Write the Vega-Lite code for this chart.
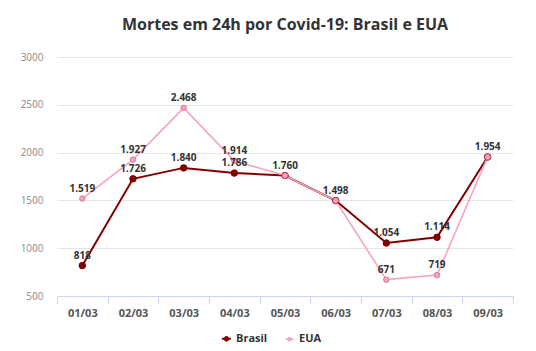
{
  "$schema": "https://vega.github.io/schema/vega-lite/v6.json",
  "autosize": {"type": "fit", "contains": "padding"},
  "width": 536,
  "height": 351,
  "padding": {"left": 20, "right": 22, "top": 17, "bottom": 33},
  "title": {
    "text": "Mortes em 24h por Covid-19: Brasil e EUA",
    "fontSize": 16,
    "fontWeight": "bold",
    "font": "Open Sans",
    "color": "#333333",
    "offset": 19,
    "anchor": "middle"
  },
  "config": {
    "font": "Open Sans",
    "view": {"stroke": null},
    "locale": {"number": {"decimal": ",", "thousands": ".", "grouping": [3], "currency": ["R$", ""]}}
  },
  "data": {
    "values": [
      {"dia": "01/03", "serie": "Brasil", "mortes": 818, "rotulo": true},
      {"dia": "02/03", "serie": "Brasil", "mortes": 1726, "rotulo": true},
      {"dia": "03/03", "serie": "Brasil", "mortes": 1840, "rotulo": true},
      {"dia": "04/03", "serie": "Brasil", "mortes": 1786, "rotulo": true},
      {"dia": "05/03", "serie": "Brasil", "mortes": 1760, "rotulo": true},
      {"dia": "06/03", "serie": "Brasil", "mortes": 1498, "rotulo": true},
      {"dia": "07/03", "serie": "Brasil", "mortes": 1054, "rotulo": true},
      {"dia": "08/03", "serie": "Brasil", "mortes": 1114, "rotulo": true},
      {"dia": "09/03", "serie": "Brasil", "mortes": 1954, "rotulo": true},
      {"dia": "01/03", "serie": "EUA", "mortes": 1519, "rotulo": true},
      {"dia": "02/03", "serie": "EUA", "mortes": 1927, "rotulo": true},
      {"dia": "03/03", "serie": "EUA", "mortes": 2468, "rotulo": true},
      {"dia": "04/03", "serie": "EUA", "mortes": 1914, "rotulo": true},
      {"dia": "05/03", "serie": "EUA", "mortes": 1760, "rotulo": false},
      {"dia": "06/03", "serie": "EUA", "mortes": 1498, "rotulo": false},
      {"dia": "07/03", "serie": "EUA", "mortes": 671, "rotulo": true},
      {"dia": "08/03", "serie": "EUA", "mortes": 719, "rotulo": true},
      {"dia": "09/03", "serie": "EUA", "mortes": 1954, "rotulo": false}
    ]
  },
  "encoding": {
    "x": {
      "field": "dia",
      "type": "nominal",
      "sort": null,
      "scale": {"type": "band", "paddingInner": 0, "paddingOuter": 0},
      "axis": {
        "title": null,
        "labelAngle": 0,
        "labelFontSize": 11,
        "labelFontWeight": "bold",
        "labelColor": "#555555",
        "labelPadding": 3,
        "tickBand": "extent",
        "tickSize": 8,
        "tickColor": "#ccd6eb",
        "domainColor": "#ccd6eb",
        "grid": false
      }
    },
    "y": {
      "field": "mortes",
      "type": "quantitative",
      "scale": {"domain": [500, 3000], "nice": false, "zero": false},
      "axis": {
        "title": null,
        "values": [500, 1000, 1500, 2000, 2500, 3000],
        "format": "d",
        "labelFontSize": 10,
        "labelColor": "#8a8a8a",
        "labelPadding": 14,
        "ticks": false,
        "domain": false,
        "gridColor": "#e6e6e6"
      }
    }
  },
  "layer": [
    {
      "mark": {"type": "line"},
      "encoding": {
        "color": {
          "field": "serie",
          "type": "nominal",
          "scale": {"domain": ["Brasil", "EUA"], "range": ["#800000", "#f4a3c0"]},
          "legend": {
            "title": null,
            "orient": "none",
            "legendX": 164,
            "legendY": 276,
            "direction": "horizontal",
            "symbolType": "M-1.4,0H1.4M-0.55,0A0.55,0.55,0,1,1,0.55,0A0.55,0.55,0,1,1,-0.55,0Z",
            "symbolSize": 100,
            "symbolStrokeWidth": 2,
            "labelFontSize": 11,
            "labelFontWeight": "bold",
            "labelColor": "#333333",
            "columnPadding": 14
          }
        },
        "strokeWidth": {
          "field": "serie",
          "type": "nominal",
          "scale": {"domain": ["Brasil", "EUA"], "range": [2, 1.6]},
          "legend": null
        }
      }
    },
    {
      "mark": {"type": "point", "filled": true, "opacity": 1},
      "encoding": {
        "color": {"field": "serie", "type": "nominal"},
        "stroke": {
          "field": "serie",
          "type": "nominal",
          "scale": {"domain": ["Brasil", "EUA"], "range": ["#800000", "#e0789e"]},
          "legend": null
        },
        "size": {
          "field": "serie",
          "type": "nominal",
          "scale": {"domain": ["Brasil", "EUA"], "range": [42, 30]},
          "legend": null
        },
        "strokeWidth": {"value": 1}
      }
    },
    {
      "transform": [{"filter": "datum.rotulo"}],
      "mark": {"type": "text", "dy": -10, "fontSize": 10, "fontWeight": "bold", "color": "#333333"},
      "encoding": {
        "text": {"field": "mortes", "type": "quantitative", "format": ",d"}
      }
    }
  ]
}
